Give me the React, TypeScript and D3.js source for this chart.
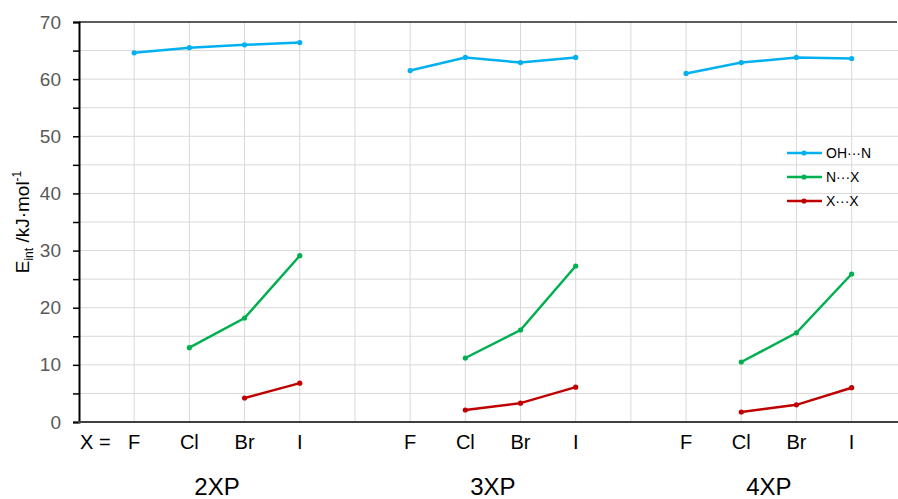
import React, { useEffect, useRef } from "react";
import * as d3 from "d3";

// halogen labels per group, and the group names below them
const halogens = ["F", "Cl", "Br", "I"];
const groups = ["2XP", "3XP", "4XP"];

// values per group, order F, Cl, Br, I (null = no point)
const ohN = [
  [64.6, 65.5, 66.0, 66.4],
  [61.5, 63.8, 62.9, 63.8],
  [61.0, 62.9, 63.8, 63.6],
];
const nX = [
  [null, 13.0, 18.2, 29.1],
  [null, 11.2, 16.1, 27.3],
  [null, 10.5, 15.6, 25.9],
];
const xX = [
  [null, null, 4.2, 6.8],
  [null, 2.1, 3.3, 6.1],
  [null, 1.75, 3.0, 6.0],
];

const seriesNames = ["OH\u00B7\u00B7\u00B7N", "N\u00B7\u00B7\u00B7X", "X\u00B7\u00B7\u00B7X"];
const seriesColors = ["#00B0F0", "#00B050", "#C00000"];
const yTicks = [0, 10, 20, 30, 40, 50, 60, 70];

const App = () => {
  const svgRef = useRef(null);

  useEffect(() => {
    const svg = d3.select(svgRef.current);
    svg.selectAll("*").remove();

    const width = 898;
    const height = 499;
    const margin = { top: 22, right: 0, bottom: 77, left: 79 };
    const font = "'Liberation Sans', Arial, sans-serif";

    // x position: each group takes 4 slots plus one empty slot
    const pos = (g, i) => 1 + g * 5 + i;

    const x = d3
      .scaleLinear()
      .domain([0, 14.84])
      .range([margin.left, width - margin.right]);
    const y = d3
      .scaleLinear()
      .domain([0, 70])
      .range([height - margin.bottom, margin.top]);

    // grid
    const grid = svg.append("g").attr("stroke", "#d9d9d9").attr("stroke-width", 1);
    d3.range(5, 70, 5).forEach((v) => {
      grid
        .append("line")
        .attr("x1", x(0))
        .attr("x2", width)
        .attr("y1", y(v))
        .attr("y2", y(v));
    });
    d3.range(1, 15).forEach((v) => {
      grid
        .append("line")
        .attr("x1", x(v))
        .attr("x2", x(v))
        .attr("y1", y(0))
        .attr("y2", y(70));
    });

    // top border
    svg
      .append("line")
      .attr("x1", x(0))
      .attr("x2", width - 1)
      .attr("y1", y(70))
      .attr("y2", y(70))
      .attr("stroke", "#262626")
      .attr("stroke-width", 1.5);

    // y axis
    const yAxis = svg
      .append("g")
      .attr("transform", `translate(${x(0)},0)`)
      .call(
        d3
          .axisLeft(y)
          .tickValues(d3.range(0, 75, 5))
          .tickSize(6)
          .tickFormat((d) => (yTicks.includes(d) ? d : ""))
      );
    yAxis.select(".domain").attr("stroke", "#000").attr("stroke-width", 2);
    yAxis.selectAll(".tick line").attr("stroke", "#000").attr("stroke-width", 1.5);
    yAxis
      .selectAll(".tick text")
      .attr("x", -18)
      .style("font-family", font)
      .style("font-size", "19px")
      .attr("fill", "#595959");

    // x axis line
    svg
      .append("line")
      .attr("x1", x(0) - 1)
      .attr("x2", width)
      .attr("y1", y(0))
      .attr("y2", y(0))
      .attr("stroke", "#404040")
      .attr("stroke-width", 2);

    // category labels
    groups.forEach((gName, g) => {
      halogens.forEach((h, i) => {
        svg
          .append("text")
          .attr("x", x(pos(g, i)))
          .attr("y", 449)
          .attr("text-anchor", "middle")
          .style("font-family", font)
          .style("font-size", "20px")
          .text(h);
      });
      svg
        .append("text")
        .attr("x", (x(pos(g, 1)) + x(pos(g, 2))) / 2)
        .attr("y", 495)
        .attr("text-anchor", "middle")
        .style("font-family", font)
        .style("font-size", "24px")
        .text(gName);
    });
    svg
      .append("text")
      .attr("x", 80)
      .attr("y", 449)
      .style("font-family", font)
      .style("font-size", "20px")
      .text("X =");

    // y title
    const yt = svg
      .append("text")
      .attr("transform", `translate(29,${(y(0) + y(70)) / 2}) rotate(-90)`)
      .attr("text-anchor", "middle")
      .style("font-family", font)
      .style("font-size", "19px");
    yt.append("tspan").text("E");
    yt.append("tspan").attr("dy", 4).style("font-size", "12px").text("int");
    yt.append("tspan").attr("dy", -4).text(" /kJ\u00B7mol");
    yt.append("tspan").attr("dy", -8).style("font-size", "12px").text("-1");

    // series
    const allSeries = [ohN, nX, xX];
    const line = d3
      .line()
      .defined((d) => d.v != null)
      .x((d) => x(d.p))
      .y((d) => y(d.v));

    allSeries.forEach((s, si) => {
      s.forEach((vals, g) => {
        const pts = vals.map((v, i) => ({ p: pos(g, i), v }));
        svg
          .append("path")
          .datum(pts)
          .attr("d", line)
          .attr("fill", "none")
          .attr("stroke", seriesColors[si])
          .attr("stroke-width", 2.5);
        svg
          .selectAll(null)
          .data(pts.filter((d) => d.v != null))
          .join("circle")
          .attr("cx", (d) => x(d.p))
          .attr("cy", (d) => y(d.v))
          .attr("r", 2.6)
          .attr("fill", seriesColors[si]);
      });
    });

    // legend
    const legend = svg
      .selectAll(".legend")
      .data(seriesNames)
      .join("g")
      .attr("transform", (d, i) => `translate(787,${153 + i * 24})`);
    legend
      .append("line")
      .attr("x1", 0)
      .attr("x2", 35)
      .attr("stroke", (d, i) => seriesColors[i])
      .attr("stroke-width", 2.5);
    legend
      .append("circle")
      .attr("cx", 17)
      .attr("r", 2.6)
      .attr("fill", (d, i) => seriesColors[i]);
    legend
      .append("text")
      .attr("x", 39)
      .attr("y", 5)
      .style("font-family", font)
      .style("font-size", "14px")
      .text((d) => d);
  }, []);

  return (
    <svg
      ref={svgRef}
      width={898}
      height={499}
      style={{ position: "absolute", left: 0, top: 0, background: "#fff" }}
    ></svg>
  );
};

export default App;
